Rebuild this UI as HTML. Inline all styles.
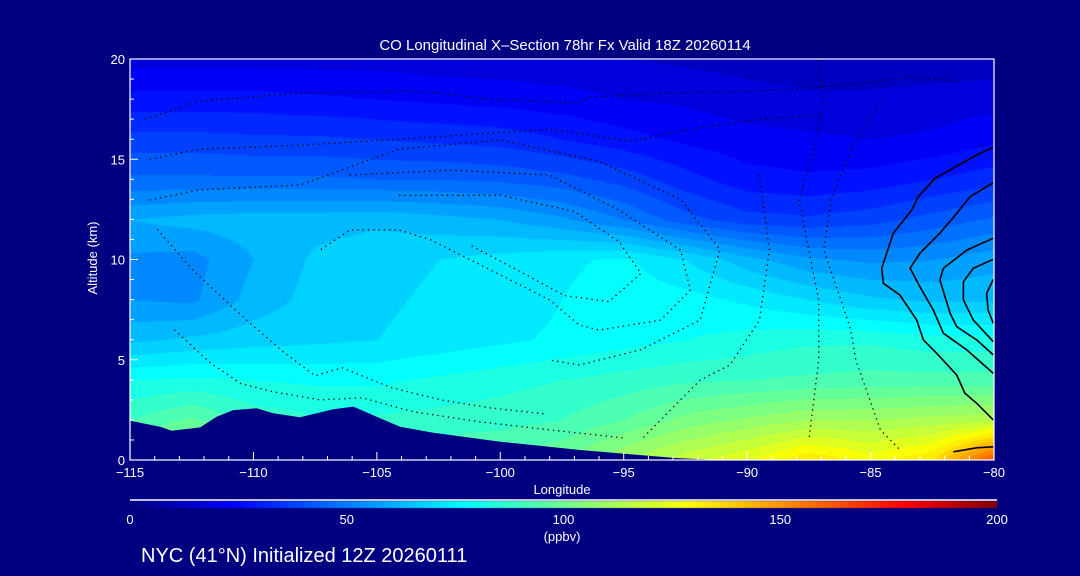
<!DOCTYPE html>
<html><head><meta charset="utf-8"><style>
html,body{margin:0;padding:0;background:#000080;}
#wrap{position:relative;width:1080px;height:576px;background:#000080;overflow:hidden;font-family:"Liberation Sans",sans-serif;color:#fff;}
canvas,svg{position:absolute;left:0;top:0;}
</style></head><body>
<div id="wrap">
<canvas id="cv" width="1080" height="576"></canvas>
<svg id="sv" width="1080" height="576" xmlns="http://www.w3.org/2000/svg">
<text x="565" y="50" fill="#fff" font-size="15" text-anchor="middle" font-family="Liberation Sans, sans-serif">CO Longitudinal X–Section 78hr  Fx Valid 18Z 20260114</text>
<text x="562" y="494" fill="#fff" font-size="13" text-anchor="middle" font-family="Liberation Sans, sans-serif">Longitude</text>
<text x="97" y="258" fill="#fff" font-size="13" text-anchor="middle" transform="rotate(-90 97 258)" font-family="Liberation Sans, sans-serif">Altitude (km)</text>
<text x="562" y="541" fill="#fff" font-size="13" text-anchor="middle" font-family="Liberation Sans, sans-serif">(ppbv)</text>
<text x="141" y="562" fill="#fff" font-size="20" font-family="Liberation Sans, sans-serif">NYC (41°N) Initialized 12Z 20260111</text>
</svg>
</div>
<script>
// ---- data ----
const gridLon=[-115,-112.5,-110,-107.5,-105,-102.5,-100,-97.5,-95,-92.5,-90,-87.5,-85,-82.5,-80];
const gridAlt=[0,2,4,6,8,10,12,14,16,18,20];
const co0 =[100,118,100,95,95,95,96,100,110,118,125,135,128,135,165];
const co2 =[90,96,88,86,86,87,88,90,95,102,106,110,110,112,114];
const co4 =[80,81,80,79,79,81,83,85,87,89,90,91,92,92,92];
const co6 =[64,66,68,69,70,72,74,76,78,80,82,84,84,82,82];
const co8 =[55,54,62,67,69,71,72,75,78,77,74,70,66,64,64];
const co10=[54,53,60,66,68,70,72,74,76,70,62,56,54,55,58];
const co12=[60,62,63,63,64,62,60,56,50,42,37,36,38,42,46];
const co14=[46,46,46,46,45,45,44,42,38,32,27,26,27,30,33];
const co16=[37,37,36,36,35,34,33,30,27,24,22,21,20,21,24];
const co18=[27,27,27,26,25,24,23,22,20,19,17,16,16,17,18];
const co20=[18,18,18,18,18,17,17,16,15,14,13,12,12,12,12];
const terrainLon=[-115,-113.78,-113.31,-112.16,-111.49,-110.82,-109.87,-109.2,-108.12,-106.76,-105.95,-105.01,-104.06,-102.71,-100,-96.76,-92.92,-91.1,-80];
const terrainAlt=[1.96,1.66,1.46,1.63,2.16,2.49,2.58,2.33,2.13,2.53,2.66,2.16,1.66,1.36,0.91,0.5,0.1,0,0];
const xTicks=[-115,-110,-105,-100,-95,-90,-85,-80];
const yTicks=[0,5,10,15,20];
const cbTicks=[0,50,100,150,200];
// solid contours (lon, alt)
const s0Lon=[-80.03,-80.7,-82.39,-83.07,-83.33,-84.08,-84.55,-84.48,-83.81,-83.13,-82.86,-82.32,-81.51,-81.18,-80.7,-80.03];
const s0Alt=[15.6,15.21,14.05,13.13,12.47,11.31,9.56,8.81,8.23,6.98,5.99,5.32,4.24,3.33,2.83,2.0];
const s10Lon=[-80.03,-80.97,-81.51,-82.19,-83.0,-83.4,-83.0,-82.46,-82.05,-81.1,-80.03];
const s10Alt=[13.83,13.13,12.3,11.31,10.31,9.56,8.64,7.48,6.32,5.49,4.32];
const s20Lon=[-80.03,-81.1,-82.05,-82.19,-81.78,-81.51,-80.7,-80.03];
const s20Alt=[11.06,10.47,9.56,8.98,7.32,6.65,5.99,5.24];
const s30Lon=[-80.03,-80.84,-81.24,-81.24,-80.84,-80.03];
const s30Alt=[10.01,9.56,8.89,7.98,6.98,5.9];
const s40Lon=[-80.03,-80.3,-80.24,-80.03];
const s40Alt=[9.01,8.31,7.48,6.82];
const sBLon=[-81.65,-80.7,-80.03];
const sBAlt=[0.41,0.61,0.66];
// dotted contours (lon, alt)
const d1Lon=[-114.4,-112.2,-108.1,-103.3,-100.4,-96.9,-96.3,-93,-89.5,-86,-83.5,-81.4];
const d1Alt=[17.0,17.9,18.3,18.4,18.0,17.8,18.1,18.3,18.4,18.7,19.1,18.9];
const d2Lon=[-114.2,-112.2,-108.1,-104.1,-98.0,-94.7,-92.3,-89.5,-86.9];
const d2Alt=[15.0,15.5,15.7,16.0,16.5,15.9,16.5,17.0,17.2];
const d3Lon=[-114.2,-112.2,-108.1,-104.1,-100.0,-96.0,-92.7,-91.1,-91.9,-94.3,-96.8,-98.0];
const d3Alt=[12.97,13.47,13.72,15.5,15.96,14.9,13.0,10.5,6.98,5.5,4.74,4.99];
const d4Lon=[-106.1,-102.0,-98.0,-95.2,-92.7,-92.3,-93.5,-96.0,-96.8,-98.0,-100.4,-102.8,-104.1,-106.1,-107.3];
const d4Alt=[14.21,14.46,14.21,12.47,10.47,8.48,6.98,6.48,6.73,7.98,9.48,10.97,11.47,11.47,10.47];
const d5Lon=[-104.1,-100.0,-97,-95.2,-94.3,-95.6,-97.4,-99.2,-101.2];
const d5Alt=[13.2,13.2,12.4,10.9,9.3,7.9,8.2,9.4,10.7];
const d6Lon=[-89.5,-89.1,-89.5,-90.7,-91.9,-93.1,-94.3];
const d6Alt=[14.21,10.47,6.98,4.74,3.99,2.5,1.0];
const d7Lon=[-87.1,-86.9,-87.3,-87.9,-87.1,-87.1,-87.5];
const d7Alt=[19.95,17.96,15.46,12.97,7.98,4.99,1.0];
const d8Lon=[-84.6,-85.8,-86.6,-86.9,-86.2,-85.8,-85.6,-84.6,-83.8];
const d8Alt=[17.96,15.46,12.97,10.47,7.98,6.48,4.99,1.5,0.5];
const d9Lon=[-113.9,-112.4,-110.3,-108.8,-107.5,-106.4,-104.4,-102.4,-100.4,-98.2];
const d9Alt=[11.5,9.4,7.0,5.4,4.2,4.6,3.6,3.0,2.6,2.3];
const d10Lon=[-113.2,-111.8,-110.5,-109.2,-107.3,-105.6,-103.5,-100.8,-98.0,-95.0];
const d10Alt=[6.5,4.9,3.8,3.4,3.0,3.1,2.4,1.9,1.5,1.1];

const X0=130,X1=994,Y0=460,Y1=59;
function xs(lon){return X0+(lon+115)/35*(X1-X0);}
function ys(alt){return Y0-alt/20*(Y0-Y1);}
const rows=[co0,co2,co4,co6,co8,co10,co12,co14,co16,co18,co20];

function idx(arr,v){for(let i=0;i<arr.length-1;i++){if(v<=arr[i+1])return i;}return arr.length-2;}
function field(lon,alt){
  const i=idx(gridLon,lon), j=idx(gridAlt,alt);
  const tx=Math.max(0,Math.min(1,(lon-gridLon[i])/(gridLon[i+1]-gridLon[i])));
  const ty=Math.max(0,Math.min(1,(alt-gridAlt[j])/(gridAlt[j+1]-gridAlt[j])));
  const a=rows[j][i],b=rows[j][i+1],c=rows[j+1][i],d=rows[j+1][i+1];
  return (a*(1-tx)+b*tx)*(1-ty)+(c*(1-tx)+d*tx)*ty;
}
const stops=[[0,0,0,128],[24,0,0,255],[77,0,255,255],[129,255,255,0],[179,255,0,0],[200,128,0,0]];
function cmap(v){
  v=Math.max(0,Math.min(200,v));
  for(let k=0;k<stops.length-1;k++){const s=stops[k],e=stops[k+1];
    if(v<=e[0]){const t=(v-s[0])/(e[0]-s[0]);return [s[1]+(e[1]-s[1])*t,s[2]+(e[2]-s[2])*t,s[3]+(e[3]-s[3])*t];}}
  return [128,0,0];
}
const cv=document.getElementById('cv');const ctx=cv.getContext('2d');
const W=X1-X0,H=Y0-Y1;
const img=ctx.createImageData(W,H);
for(let py=0;py<H;py++){const alt=(Y0-(Y1+py))/(Y0-Y1)*20;
  for(let px=0;px<W;px++){const lon=-115+px/W*35;
    let v=field(lon,alt);v=Math.floor(v/5)*5+2.5;const c=cmap(v);
    const o=(py*W+px)*4;img.data[o]=c[0];img.data[o+1]=c[1];img.data[o+2]=c[2];img.data[o+3]=255;}}
ctx.putImageData(img,X0,Y1);
// colorbar gradient
const g=ctx.createLinearGradient(130,0,997,0);
stops.forEach(s=>{const c=cmap(s[0]);g.addColorStop(s[0]/200,'rgb('+c.map(Math.round).join(',')+')');});
ctx.fillStyle=g;ctx.fillRect(130,501,867,7);

const NS='http://www.w3.org/2000/svg';const sv=document.getElementById('sv');
function mk(tag,attrs){const e=document.createElementNS(NS,tag);for(const k in attrs)e.setAttribute(k,attrs[k]);sv.appendChild(e);return e;}
// terrain
let tp='M'+xs(terrainLon[0])+','+ys(terrainAlt[0]);
for(let i=1;i<terrainLon.length;i++)tp+=' L'+xs(terrainLon[i])+','+ys(terrainAlt[i]);
tp+=' L'+X1+','+Y0+' L'+X0+','+Y0+' Z';
const ter=mk('path',{d:tp,fill:'#000080'});


function line(lons,alts,dotted,name){
  let d='';for(let i=0;i<lons.length;i++)d+=(i?' L':'M')+xs(lons[i]).toFixed(1)+','+ys(alts[i]).toFixed(1);
  const e=mk('path',{d:d,fill:'none',stroke:'#000','stroke-width':dotted?1.3:1.6,'stroke-dasharray':dotted?'1.3,4':'none'});
  
  
}
line(s0Lon,s0Alt,false,'contour-0');line(s10Lon,s10Alt,false,'contour-10');line(s20Lon,s20Alt,false,'contour-20');
line(s30Lon,s30Alt,false,'contour-30');line(s40Lon,s40Alt,false,'contour-40');line(sBLon,sBAlt,false,'contour-0-surface');
[[d1Lon,d1Alt],[d2Lon,d2Alt],[d3Lon,d3Alt],[d4Lon,d4Alt],[d5Lon,d5Alt],[d6Lon,d6Alt],[d7Lon,d7Alt],[d8Lon,d8Alt],[d9Lon,d9Alt],[d10Lon,d10Alt]].forEach((p,i)=>line(p[0],p[1],true,'contour-negative-'+(i+1)));
// axes box
const box=mk('rect',{x:X0,y:Y1,width:W,height:H,fill:'none',stroke:'#fff','stroke-width':1.2});


for(let l=-115;l<=-80;l++){const maj=(l%5===0);
  mk('line',{x1:xs(l),x2:xs(l),y1:Y0,y2:Y0-(maj?8:4),stroke:'#fff','stroke-width':1});}
for(let a=0;a<=20;a++){const maj=(a%5===0);
  mk('line',{x1:X0,x2:X0+(maj?8:4),y1:ys(a),y2:ys(a),stroke:'#fff','stroke-width':1});}
xTicks.forEach(t=>{const e=mk('text',{x:xs(t),y:477,fill:'#fff','font-size':13,'text-anchor':'middle'});e.textContent='\u2212'+Math.abs(t);
  
  });
yTicks.forEach(t=>{const e=mk('text',{x:125,y:ys(t)+5,fill:'#fff','font-size':13,'text-anchor':'end'});e.textContent=t;
  
  });
const cbl=mk('line',{x1:130,x2:997,y1:500,y2:500,stroke:'#fff','stroke-width':1.5});


cbTicks.forEach(t=>{const e=mk('text',{x:130+t/200*867,y:524,fill:'#fff','font-size':13,'text-anchor':'middle'});e.textContent=t;
  
  });
</script>
</body></html>
